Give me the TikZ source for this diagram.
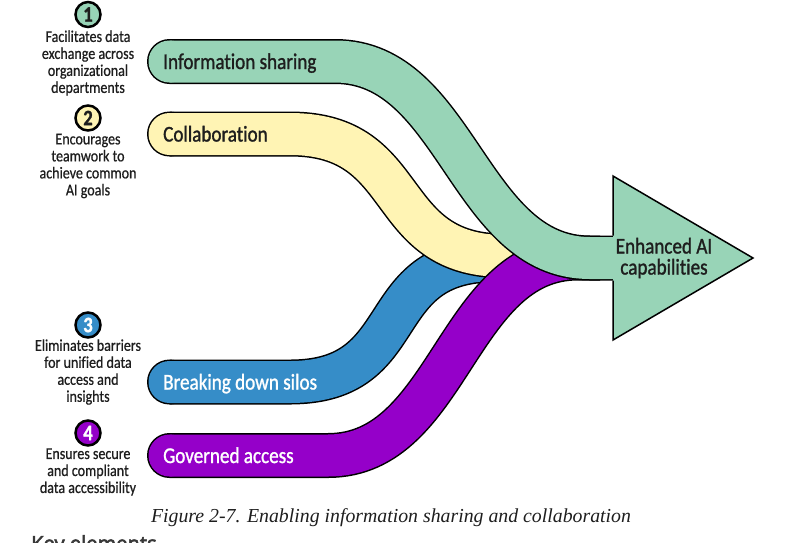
\documentclass[tikz,border=0pt]{standalone}
\usepackage{fontspec}
\setmainfont{Carlito}
\newfontfamily\lblfont[FakeStretch=0.85,FakeBold=1.2,Ligatures=NoCommon]{Carlito}
\newfontfamily\descfont[FakeStretch=0.85,FakeBold=0.6,Ligatures=NoCommon]{Carlito}
\newfontfamily\capfont{Liberation Serif}
\newfontfamily\keyfont[FakeBold=2.5]{Noto Sans}
\definecolor{cteal}{HTML}{98D4B7}
\definecolor{cyellow}{HTML}{FFF4B4}
\definecolor{cblue}{HTML}{368DC8}
\definecolor{cpurple}{HTML}{9500C9}
\definecolor{ctext}{HTML}{1E1E1E}
\begin{document}
\begin{tikzpicture}[x=1pt,y=-1pt,
  bandout/.style={line width=45pt,draw=black,line cap=butt},
  bandin/.style={line width=42pt,line cap=butt},
  desc/.style={align=center,text=ctext,font=\descfont\fontsize{16.5}{17}\selectfont,inner sep=0pt},
  lbl/.style={anchor=base west,font=\lblfont\fontsize{22.5}{24}\selectfont,inner sep=0pt},
  numc/.style={circle,draw=black,line width=2.5pt,minimum size=25pt,inner sep=0pt,font=\lblfont\bfseries\fontsize{22}{22}\selectfont},
]
\useasboundingbox (0,0) rectangle (800,542);
\fill[white] (0,0) rectangle (800,542);

% band coordinates
\coordinate (t0) at (169.5,61.5);  \coordinate (t1) at (335,61.5);  \coordinate (t2) at (590,258);  \coordinate (t3) at (625,258);
\coordinate (y0) at (169.5,134);   \coordinate (y1) at (290,134);   \coordinate (y2) at (505,256);  \coordinate (y3) at (530,256);
\coordinate (b0) at (169.5,382);   \coordinate (b1) at (290,382);   \coordinate (b2) at (495,260);  \coordinate (b3) at (505,260);
\coordinate (p0) at (169.5,455.5); \coordinate (p1) at (328,455.5); \coordinate (p2) at (578,258);  \coordinate (p3) at (600,258);

% blue band
\draw[bandout] (b0) -- (b1) .. controls +(126,0) and +(-126,0) .. (b2) -- (b3);
\fill[black] (b0) circle (22.5);
\draw[bandin,cblue] (b0) -- (b1) .. controls +(126,0) and +(-126,0) .. (b2) -- (b3);
\fill[cblue] (b0) circle (21);
% yellow band
\draw[bandout] (y0) -- (y1) .. controls +(125,0) and +(-125,0) .. (y2) -- (y3);
\fill[black] (y0) circle (22.5);
\draw[bandin,cyellow] (y0) -- (y1) .. controls +(125,0) and +(-125,0) .. (y2) -- (y3);
\fill[cyellow] (y0) circle (21);
% purple band
\draw[bandout] (p0) -- (p1) .. controls +(122,0) and +(-122,0) .. (p2) -- (p3);
\fill[black] (p0) circle (22.5);
\draw[bandin,cpurple] (p0) -- (p1) .. controls +(122,0) and +(-122,0) .. (p2) -- (p3);
\fill[cpurple] (p0) circle (21);
% teal band
\draw[bandout] (t0) -- (t1) .. controls +(122,0) and +(-122,0) .. (t2) -- (t3);
\fill[black] (t0) circle (22.5);
\draw[bandin,cteal] (t0) -- (t1) .. controls +(122,0) and +(-122,0) .. (t2) -- (t3);
\fill[cteal] (t0) circle (21);

% arrow head
\coordinate (h1) at (613,235.5); \coordinate (h2) at (613,176); \coordinate (h3) at (753,258);
\coordinate (h4) at (613,340);   \coordinate (h5) at (613,280.5);
\fill[cteal] (h1) -- (h2) -- (h3) -- (h4) -- (h5) -- cycle;
\draw[line width=1.5pt,line join=miter] (h1) -- (h2) -- (h3) -- (h4) -- (h5);
\node[align=center,text=ctext,font=\lblfont\fontsize{22.5}{21}\selectfont,inner sep=0pt] (enh) at (664,258) {Enhanced AI\\capabilities};

% band labels
\node[lbl,text=ctext] (lt) at (163,69) {Information sharing};
\node[lbl,text=ctext] (ly) at (163,141.5) {Collaboration};
\node[lbl,text=white] (lb) at (163,389.5) {Breaking down silos};
\node[lbl,text=white] (lp) at (163,463) {Governed access};

% number circles
\node[numc,fill=cteal,text=ctext] (n1) at (88,14.5) {1};
\node[numc,fill=cyellow,text=ctext] (n2) at (88,118) {2};
\node[numc,fill=cblue,text=white] (n3) at (88,325) {3};
\node[numc,fill=cpurple,text=white] (n4) at (88,433) {4};

% descriptions
\node[desc] (d1) at (88,63) {Facilitates data\\exchange across\\organizational\\departments};
\node[desc] (d2) at (88,166) {Encourages\\teamwork to\\achieve common\\AI goals};
\node[desc] (d3) at (88,372) {Eliminates barriers\\for unified data\\access and\\insights};
\node[desc] (d4) at (88,472) {Ensures secure\\and compliant\\data accessibility};

% caption
\node[anchor=base,inner sep=0pt,font=\capfont\itshape\fontsize{19.8}{22}\selectfont,text=ctext] (cap) at (391,522) {Figure 2-7. Enabling information sharing and collaboration};
\node[anchor=north west,inner sep=0pt,font=\keyfont\fontsize{20}{22}\selectfont,text=black!78] (key) at (31,535) {Key elements};
\end{tikzpicture}
\end{document}
